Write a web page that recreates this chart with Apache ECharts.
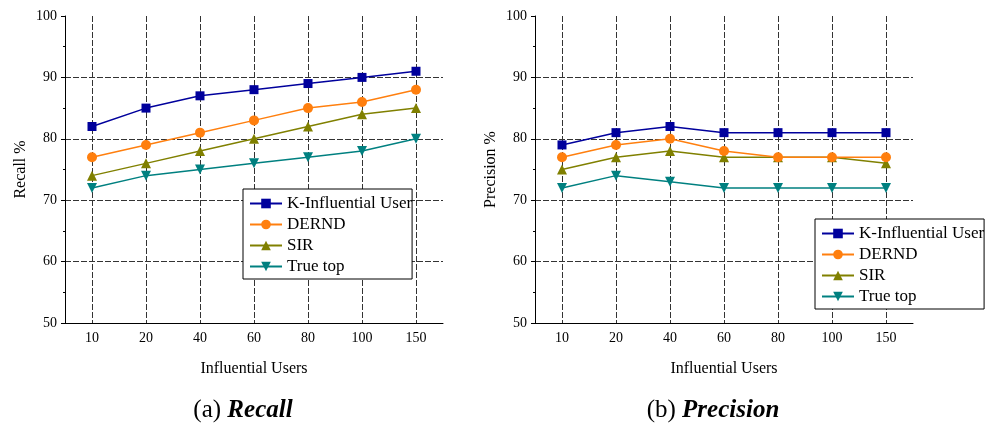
<!DOCTYPE html>
<html>
<head>
<meta charset="utf-8">
<script src="https://cdn.jsdelivr.net/npm/echarts@6/dist/echarts.min.js"></script>
<style>
  html, body { margin: 0; padding: 0; background: #fff; }
  #chart { width: 997px; height: 427px; }
</style>
</head>
<body>
<div id="chart"></div>
<script>
const users = ['10', '20', '40', '60', '80', '100', '150']
const names = ['K-Influential Users', 'DERND', 'SIR', 'True top']
const colors = ['#00009c', '#ff7f0e', '#808000', '#008080']
const symbols = ['rect', 'circle', 'triangle', 'triangle']
const rotates = [0, 0, 0, 180]

const recallK = [82, 85, 87, 88, 89, 90, 91]
const recallDernd = [77, 79, 81, 83, 85, 86, 88]
const recallSir = [74, 76, 78, 80, 82, 84, 85]
const recallTrue = [72, 74, 75, 76, 77, 78, 80]

const precK = [79, 81, 82, 81, 81, 81, 81]
const precDernd = [77, 79, 80, 78, 77, 77, 77]
const precSir = [75, 77, 78, 77, 77, 77, 76]
const precTrue = [72, 74, 73, 72, 72, 72, 72]

const font = 'Liberation Serif'
const chart = echarts.init(document.getElementById('chart'))

const grids = [
	{ left: 65, top: 16, width: 378, height: 307 },
	{ left: 535, top: 16, width: 378, height: 307 },
]

const gridLine = { color: '#333', type: [6, 2], width: 1 }

const makeXAxes = (gi) => [
	{
		type: 'category',
		gridIndex: gi,
		data: users,
		boundaryGap: true,
		position: 'bottom',
		name: 'Influential Users',
		nameLocation: 'middle',
		nameGap: 38,
		nameTextStyle: { fontFamily: font, fontSize: 16, color: '#000' },
		axisLine: { lineStyle: { color: '#000', width: 1 } },
		axisTick: { alignWithLabel: true, length: 4, lineStyle: { color: '#000' } },
		axisLabel: { fontFamily: font, fontSize: 14, color: '#000', margin: 8 },
		splitLine: { show: true, alignWithLabel: true, lineStyle: gridLine },
	},
	{
		// second axis only carries the ticks between categories
		type: 'category',
		gridIndex: gi,
		data: users,
		boundaryGap: true,
		position: 'bottom',
		axisLine: { show: false },
		axisTick: { length: 4, lineStyle: { color: '#000' } },
		axisLabel: { show: false },
		splitLine: { show: false },
	},
]

const makeYAxis = (gi, name) => ({
	type: 'value',
	gridIndex: gi,
	min: 50,
	max: 100,
	interval: 10,
	name: name,
	nameLocation: 'middle',
	nameGap: 36,
	nameTextStyle: { fontFamily: font, fontSize: 16, color: '#000' },
	axisLine: { show: true, lineStyle: { color: '#000', width: 1 } },
	axisTick: { show: true, length: 4, lineStyle: { color: '#000' } },
	minorTick: { show: true, splitNumber: 2, length: 2, lineStyle: { color: '#000' } },
	axisLabel: { fontFamily: font, fontSize: 14, color: '#000', margin: 8 },
	splitLine: { show: true, showMinLine: false, showMaxLine: false, lineStyle: gridLine },
})

const makeSeries = (values, xi, yi) =>
	values.map((v, i) => ({
		name: names[i],
		type: 'line',
		xAxisIndex: xi,
		yAxisIndex: yi,
		data: v,
		symbol: symbols[i],
		symbolRotate: rotates[i],
		symbolSize: i === 0 ? 9 : 10,
		showAllSymbol: true,
		color: colors[i],
		lineStyle: { width: 1.5, color: colors[i] },
		itemStyle: { color: colors[i] },
		z: 10 - i,
	}))

const makeLegend = (left, top) => ({
	orient: 'vertical',
	left: left,
	top: top,
	data: names,
	backgroundColor: '#fff',
	borderColor: '#000',
	borderWidth: 1,
	borderRadius: 0,
	padding: [6, 0, 4, 6],
	itemWidth: 32,
	itemHeight: 12,
	itemGap: 4,
	itemStyle: { borderWidth: 0 },
	textStyle: {
		fontFamily: font,
		fontSize: 17,
		color: '#000',
		width: 129,
		overflow: 'truncate',
		ellipsis: '',
	},
	selectedMode: false,
})

const captionStyle = {
	fontFamily: font,
	fontSize: 25,
	fontWeight: 'normal',
	color: '#000',
	rich: { b: { fontFamily: font, fontSize: 25, fontWeight: 'bold', fontStyle: 'italic', color: '#000' } },
}

const option = {
	backgroundColor: '#fff',
	animation: false,
	textStyle: { fontFamily: font },
	title: [
		{ text: '(a) {b|Recall}', left: 238, top: 393, textAlign: 'center', textStyle: captionStyle },
		{ text: '(b) {b|Precision}', left: 708, top: 393, textAlign: 'center', textStyle: captionStyle },
	],
	legend: [makeLegend(243, 189), makeLegend(815, 219)],
	grid: grids,
	xAxis: [...makeXAxes(0), ...makeXAxes(1)],
	yAxis: [makeYAxis(0, 'Recall %'), makeYAxis(1, 'Precision %')],
	series: [
		...makeSeries([recallK, recallDernd, recallSir, recallTrue], 0, 0),
		...makeSeries([precK, precDernd, precSir, precTrue], 2, 1),
	],
}

chart.setOption(option)
</script>
</body>
</html>
